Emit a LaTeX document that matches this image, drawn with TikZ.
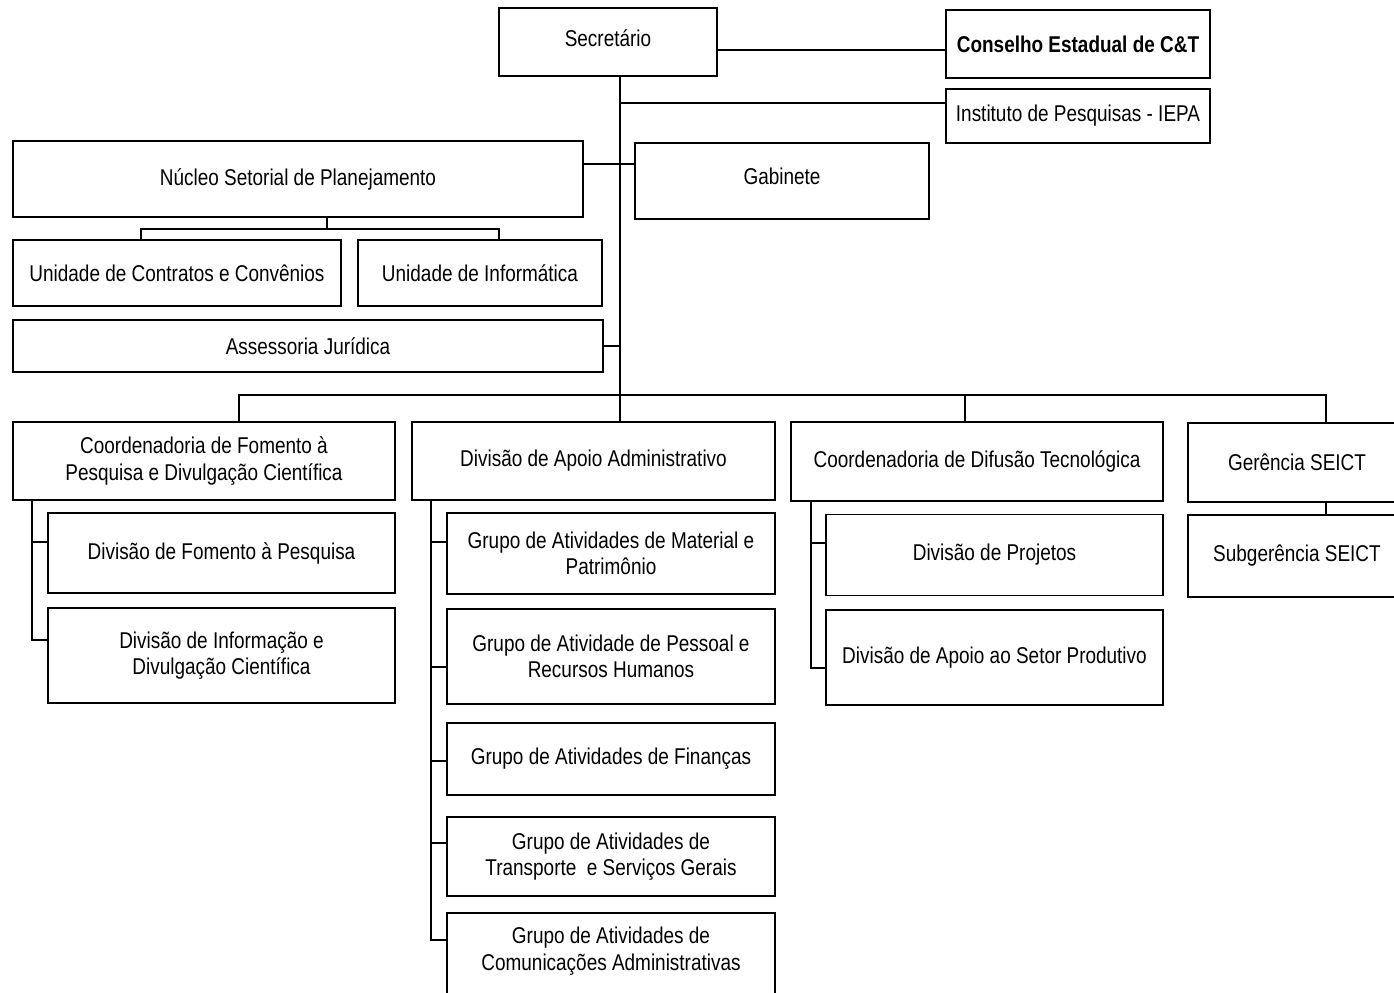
\documentclass[tikz,border=0pt]{standalone}
\usepackage{fontspec}
\setmainfont{Liberation Sans}[FakeStretch=0.83]

\begin{document}
\begin{tikzpicture}[x=0.02cm,y=-0.02cm,
  box/.style={draw,line width=1pt,inner sep=0pt,align=center,font=\fontsize{13}{15}\selectfont},
  wh/.style 2 args={minimum width=#1*0.02cm,minimum height=#2*0.02cm},
  link/.style={line width=0.9pt}]

\useasboundingbox (0,0) rectangle (1394,992);

% Top level
\node[box,wh={218}{68},text depth=0.16cm] (sec) at (608,42) {Secretário};
\node[box,wh={264}{68},font=\fontsize{13}{15}\selectfont\bfseries] (cons) at (1078,44) {Conselho Estadual de C\&T};
\node[box,wh={264}{54}] (iepa) at (1078,116) {Instituto de Pesquisas - IEPA};

% Staff units
\node[box,wh={570}{76}] (nucleo) at (298,179) {Núcleo Setorial de Planejamento};
\node[box,wh={294}{76},text depth=0.2cm] (gab) at (782,181) {Gabinete};
\node[box,wh={328}{66}] (unicc) at (177,273) {Unidade de Contratos e Convênios};
\node[box,wh={244}{66}] (uniinf) at (480,273) {Unidade de Informática};
\node[box,wh={590}{52}] (assess) at (308,346) {Assessoria Jurídica};

% Line units
\node[box,wh={382}{78}] (coordfom) at (204,461) {Coordenadoria de Fomento à\\Pesquisa e Divulgação Científica};
\node[box,wh={363}{78}] (divapoio) at (593.5,461) {Divisão de Apoio Administrativo};
\node[box,wh={372}{79}] (coorddif) at (977,461.5) {Coordenadoria de Difusão Tecnológica};
\node[box,wh={218}{79}] (ger) at (1297,462.5) {Gerência SEICT};
\node[box,wh={218}{82}] (subger) at (1297,556) {Subgerência SEICT};

% Divisions
\node[box,wh={347}{80}] (divfom) at (221.5,553) {Divisão de Fomento à Pesquisa};
\node[box,wh={347}{95}] (divinfo) at (221.5,655.5) {Divisão de Informação e\\Divulgação Científica};
\node[box,wh={328}{81}] (gmat) at (611,553.5) {Grupo de Atividades de Material e\\Patrimônio};
\node[box,wh={328}{95}] (gpes) at (611,656.5) {Grupo de Atividade de Pessoal e\\Recursos Humanos};
\node[box,wh={328}{72}] (gfin) at (611,759) {Grupo de Atividades de Finanças};
\node[box,wh={328}{79}] (gtra) at (611,856.5) {Grupo de Atividades de\\Transporte\ \ e Serviços Gerais};
\node[box,wh={328}{88},text depth=0.33cm] (gcom) at (611,957) {Grupo de Atividades de\\Comunicações Administrativas};
\node[box,wh={337}{81}] (divproj) at (994.5,555) {Divisão de Projetos};
\node[box,wh={337}{95}] (divapsp) at (994.5,657.5) {Divisão de Apoio ao Setor Produtivo};

% Trunk and side links
\coordinate (trunk) at (620,395);
\coordinate (nfork) at (327,229);
\draw[link] (sec.south -| trunk) -- (trunk);
\draw[link] (sec.east |- 0,50) -- (cons.west |- 0,50);
\draw[link] (trunk |- 0,103) -- (iepa.west |- 0,103);
\draw[link] (nucleo.east |- 0,164) -- (gab.west |- 0,164);
\draw[link] (nucleo.south -| nfork) -- (nfork) -| (unicc.north -| 141,0);
\draw[link] (nfork) -| (uniinf.north -| 499,0);
\draw[link] (assess.east) -- (assess.east -| trunk);

% Bar to line units
\coordinate (dfom) at (239,395);
\coordinate (ddif) at (965,395);
\coordinate (dger) at (1326,395);
\draw[link] (coordfom.north -| dfom) -- (dfom) -- (dger) -- (ger.north -| dger);
\draw[link] (trunk) -- (divapoio.north -| trunk);
\draw[link] (ddif) -- (coorddif.north -| ddif);
\draw[link] (ger.south -| dger) -- (subger.north -| dger);

% Sub-branches
\draw[link] (coordfom.south -| 32,0) |- (divfom.west |- 0,542);
\draw[link] (coordfom.south -| 32,0) |- (divinfo.west |- 0,640);
\foreach \n/\y in {gmat/542,gpes/667,gfin/761,gtra/843,gcom/940}
  \draw[link] (divapoio.south -| 431,0) |- (\n.west |- 0,\y);
\draw[link] (coorddif.south -| 811,0) |- (divproj.west |- 0,543);
\draw[link] (coorddif.south -| 811,0) |- (divapsp.west |- 0,668);

\end{tikzpicture}
\end{document}
